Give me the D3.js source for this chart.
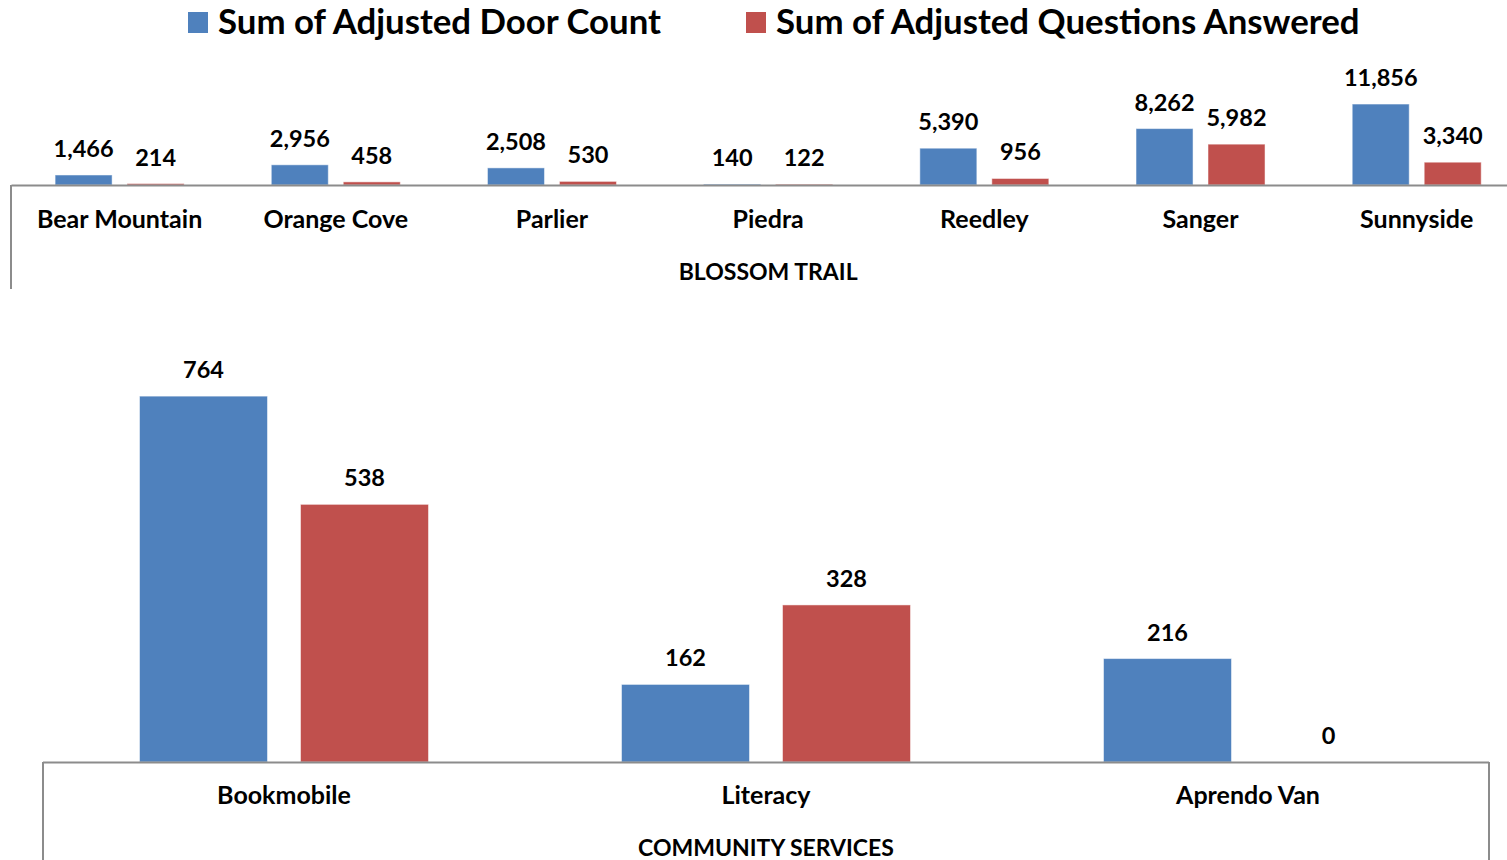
<!DOCTYPE html>
<html>
<head>
<meta charset="utf-8">
<script src="https://cdn.jsdelivr.net/npm/d3@7"></script>
<style>
  body { margin: 0; background: #fff; }
  svg text { font-family: Lato, "Open Sans", sans-serif; font-weight: bold; fill: #000; }
</style>
</head>
<body>
<svg width="1507" height="860"></svg>
<script>
// series names
var seriesNames = ["Sum of Adjusted Door Count", "Sum of Adjusted Questions Answered"];
var seriesColors = ["#4F81BD", "#C0504D"];

// Blossom Trail panel
var trailCategories = ["Bear Mountain", "Orange Cove", "Parlier", "Piedra", "Reedley", "Sanger", "Sunnyside"];
var trailDoor = [1466, 2956, 2508, 140, 5390, 8262, 11856];
var trailQuestions = [214, 458, 530, 122, 956, 5982, 3340];

// Community Services panel
var serviceCategories = ["Bookmobile", "Literacy", "Aprendo Van"];
var serviceDoor = [764, 162, 216];
var serviceQuestions = [538, 328, 0];

var svg = d3.select("svg");
var fmt = d3.format(",");

// legend
var legendItems = [
  { name: seriesNames[0], color: seriesColors[0], x: 188 },
  { name: seriesNames[1], color: seriesColors[1], x: 746 }
];
var legend = svg.selectAll(".legend").data(legendItems).enter().append("g")
  .attr("class", "legend")
  .attr("transform", function(d) { return "translate(" + d.x + ",12)"; });
legend.append("rect").attr("width", 20).attr("height", 21).attr("fill", function(d) { return d.color; });
legend.append("text").attr("x", 30).attr("y", 22)
  .style("font-size", "34.8px")
  .text(function(d) { return d.name; });

function drawPanel(opts) {
  var data = opts.categories.map(function(c, i) {
    return { cat: c, values: [opts.door[i], opts.questions[i]] };
  });

  var x0 = d3.scaleBand().domain(opts.categories).range([opts.left, opts.right]).paddingInner(0).paddingOuter(0);
  var x1 = d3.scaleBand().domain([0, 1]).range([0, opts.groupWidth]).paddingInner(opts.innerPad);
  var y = d3.scaleLinear().domain([0, opts.yMax]).range([opts.base, opts.top]);

  var g = svg.append("g");

  var groups = g.selectAll(".grp").data(data).enter().append("g")
    .attr("transform", function(d) {
      return "translate(" + (x0(d.cat) + (x0.bandwidth() - opts.groupWidth) / 2) + ",0)";
    });

  groups.selectAll("rect").data(function(d) { return d.values; }).enter().append("rect")
    .attr("x", function(d, i) { return x1(i); })
    .attr("y", function(d) { return y(d); })
    .attr("width", x1.bandwidth())
    .attr("height", function(d) { return opts.base - y(d); })
    .attr("fill", function(d, i) { return seriesColors[i]; })
    .attr("stroke", "#fff").attr("stroke-opacity", 0.5).attr("stroke-width", 1);

  groups.selectAll(".val").data(function(d) { return d.values; }).enter().append("text")
    .attr("class", "val")
    .attr("x", function(d, i) { return x1(i) + x1.bandwidth() / 2; })
    .attr("y", function(d) { return y(d) - 18; })
    .attr("text-anchor", "middle")
    .style("font-size", opts.valueSize + "px")
    .text(function(d) { return fmt(d); });

  // axis line and frame
  g.append("line").attr("x1", opts.left).attr("x2", opts.right)
    .attr("y1", opts.base + 0.5).attr("y2", opts.base + 0.5)
    .attr("stroke", "#8c8c8c").attr("stroke-width", 2);
  opts.frameX.forEach(function(fx) {
    g.append("line").attr("x1", fx).attr("x2", fx)
      .attr("y1", opts.base).attr("y2", opts.frameBottom)
      .attr("stroke", "#8c8c8c").attr("stroke-width", 2);
  });

  var axis = d3.axisBottom(x0).tickSize(0).tickPadding(0);
  var ax = g.append("g").attr("transform", "translate(0," + opts.catY + ")").call(axis);
  ax.select(".domain").remove();
  ax.attr("font-family", null).attr("font-size", null);
  ax.selectAll("text")
    .attr("dy", 0)
    .style("font-size", opts.catSize + "px");

  g.append("text")
    .attr("x", (opts.left + opts.right) / 2)
    .attr("y", opts.titleY)
    .attr("text-anchor", "middle")
    .style("font-size", opts.titleSize + "px")
    .text(opts.title);
}

drawPanel({
  categories: trailCategories, door: trailDoor, questions: trailQuestions,
  left: 11.5, right: 1524.8, groupWidth: 129, innerPad: 0.208,
  base: 185, top: 89.4, yMax: 14000,
  valueSize: 23.5, catSize: 25, catY: 228, titleY: 280, titleSize: 23,
  title: "BLOSSOM TRAIL", frameX: [11], frameBottom: 289
});

drawPanel({
  categories: serviceCategories, door: serviceDoor, questions: serviceQuestions,
  left: 43, right: 1489, groupWidth: 289, innerPad: 0.205,
  base: 762, top: 331, yMax: 900,
  valueSize: 23.5, catSize: 25, catY: 804, titleY: 856, titleSize: 23,
  title: "COMMUNITY SERVICES", frameX: [43, 1489], frameBottom: 860
});
</script>
</body>
</html>
